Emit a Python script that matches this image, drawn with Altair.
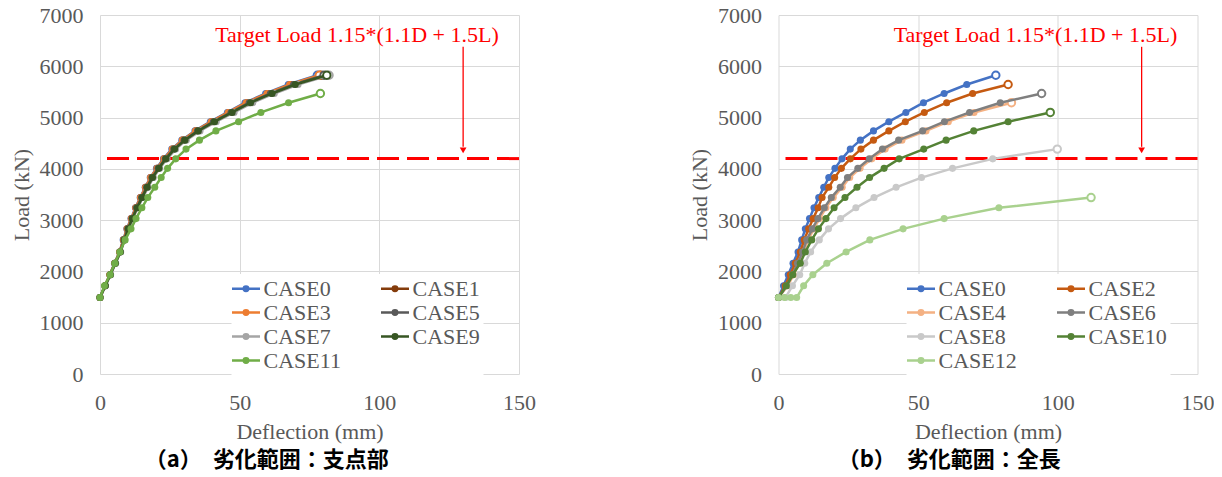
import altair as alt
import pandas as pd

# ---------------- data ----------------
LOAD_STEPS = [1490, 1720, 1935, 2160, 2380, 2615, 2830, 3030, 3240, 3440, 3640, 3830,
              4010, 4195, 4385, 4560, 4740, 4920, 5100, 5290, 5470, 5645, 5825]

# (a) left panel
CASE0_DEFL = [0, 1.8, 3.5, 5.2, 7.0, 8.3, 9.6, 11.1, 12.7, 14.4, 16.2, 18.0, 20.2, 22.7,
              25.7, 29.3, 34.0, 39.5, 45.6, 51.9, 59.3, 67.4, 77.8]
CASE1_DEFL = [0, 1.8, 3.6, 5.3, 7.1, 8.4, 9.8, 11.3, 12.9, 14.6, 16.4, 18.3, 20.5, 23.0,
              26.0, 29.6, 34.4, 40.0, 46.2, 52.6, 60.1, 68.3, 79.0]
CASE3_DEFL = [0, 1.8, 3.5, 5.3, 7.0, 8.4, 9.7, 11.2, 12.8, 14.5, 16.3, 18.1, 20.4, 22.9,
              25.9, 29.5, 34.2, 39.8, 45.9, 52.3, 59.8, 67.9, 78.5]
CASE5_DEFL = [0, 1.9, 3.7, 5.4, 7.2, 8.6, 10.0, 11.5, 13.1, 14.9, 16.7, 18.6, 20.8, 23.4,
              26.4, 30.1, 34.9, 40.6, 46.9, 53.4, 61.0, 69.3, 80.2]
CASE7_DEFL = [0, 1.9, 3.8, 5.6, 7.4, 8.8, 10.3, 11.8, 13.5, 15.3, 17.2, 19.1, 21.4, 24.0,
              27.1, 30.9, 35.8, 41.6, 48.0, 54.7, 62.4, 70.9, 82.0]
CASE9_DEFL = [0, 1.9, 3.7, 5.5, 7.3, 8.7, 10.1, 11.6, 13.3, 15.1, 16.9, 18.8, 21.1, 23.6,
              26.7, 30.4, 35.2, 41.0, 47.3, 53.9, 61.6, 69.9, 81.2]
CASE11_DEFL = [0, 1.6, 3.6, 5.3, 7.1, 9.0, 11.1, 12.9, 15.0, 17.1, 19.6, 21.9, 24.2, 27.1,
               30.8, 35.6, 41.5, 49.6, 57.6, 67.5, 78.9]

# (b) right panel
CASE2_DEFL = [0, 2.4, 4.2, 6.0, 7.8, 9.2, 10.8, 12.4, 14.2, 15.6, 18.0, 20.1, 22.5, 25.7,
              29.5, 34.0, 39.5, 45.4, 52.2, 60.2, 69.5, 82.2]
CASE4_DEFL = [0, 3.3, 5.4, 7.2, 9.0, 10.6, 12.6, 14.7, 17.0, 19.6, 22.8, 25.5, 29.2, 33.4,
              38.2, 44.2, 52.8, 60.8, 70.0, 83.4]
CASE6_DEFL = [0, 3.0, 5.0, 6.8, 8.6, 10.1, 12.1, 14.1, 16.4, 18.9, 22.1, 24.7, 28.4, 32.5,
              37.2, 43.0, 51.6, 59.4, 68.4, 79.4, 94.2]
CASE8_DEFL = [0, 2.5, 5.0, 7.6, 9.4, 11.5, 14.6, 17.9, 22.2, 27.7, 34.2, 42.1, 51.2, 62.3,
              76.7, 99.8]
CASE8_LOAD = [1490, 1490, 1720, 1935, 2160, 2380, 2615, 2830, 3030, 3240, 3440, 3640, 3830,
              4010, 4195, 4385]
CASE10_DEFL = [0, 2.8, 5.1, 7.8, 9.6, 11.9, 14.3, 17.0, 19.9, 23.8, 28.1, 32.6, 37.8, 43.2,
               52.0, 60.0, 69.9, 82.2, 97.3]
CASE12_DEFL = [0, 2.2, 4.4, 6.5, 9.0, 12.3, 17.3, 24.2, 32.7, 44.6, 59.3, 78.9, 111.9]
CASE12_LOAD = [1490, 1490, 1490, 1490, 1720, 1935, 2160, 2380, 2615, 2830, 3030, 3240, 3440]

LEFT_CASES = ["CASE0", "CASE1", "CASE3", "CASE5", "CASE7", "CASE9", "CASE11"]
LEFT_COLORS = ["#4472C4", "#843C0C", "#ED7D31", "#595959", "#A5A5A5", "#375623", "#70AD47"]
LEFT_DEFL = [CASE0_DEFL, CASE1_DEFL, CASE3_DEFL, CASE5_DEFL, CASE7_DEFL, CASE9_DEFL, CASE11_DEFL]
LEFT_LOAD = [LOAD_STEPS[:len(d)] for d in LEFT_DEFL]

RIGHT_CASES = ["CASE0", "CASE2", "CASE4", "CASE6", "CASE8", "CASE10", "CASE12"]
RIGHT_COLORS = ["#4472C4", "#C55A11", "#F4B183", "#7F7F7F", "#C9C9C9", "#548235", "#A9D18E"]
RIGHT_DEFL = [CASE0_DEFL, CASE2_DEFL, CASE4_DEFL, CASE6_DEFL, CASE8_DEFL, CASE10_DEFL, CASE12_DEFL]
RIGHT_LOAD = [LOAD_STEPS[:len(CASE0_DEFL)], LOAD_STEPS[:len(CASE2_DEFL)],
              LOAD_STEPS[:len(CASE4_DEFL)], LOAD_STEPS[:len(CASE6_DEFL)],
              CASE8_LOAD, LOAD_STEPS[:len(CASE10_DEFL)], CASE12_LOAD]

TARGET_LOAD = 4200
TARGET_TEXT = "Target Load 1.15*(1.1D + 1.5L)"
TEXT_POS = [92, 6610]
ARROW_X = 130
ARROW_Y = [6380, 4430]
ARROWHEAD_Y = 4360

X_TICKS = [0, 50, 100, 150]
Y_TICKS = [0, 1000, 2000, 3000, 4000, 5000, 6000, 7000]
CAPTIONS = ["（a）\u3000劣化範囲：支点部", "（b）\u3000劣化範囲：全長"]
CAPTION_DX = [-6, -2]
LEGEND_X = [131.5, 128]

SERIF = "Liberation Serif, Times New Roman, Tinos, DejaVu Serif, serif"
RED = "#FF0000"
# legend glyph: a short line with a filled dot (drawn as concentric stroked rings)
LEGEND_SYMBOL = ("M-1.4,0H1.4"
                 "M-0.224,0A0.224,0.224,0,1,0,0.224,0A0.224,0.224,0,1,0,-0.224,0"
                 "M-0.084,0A0.084,0.084,0,1,0,0.084,0A0.084,0.084,0,1,0,-0.084,0")

W, H = 419, 359


def panel(cases, colors, defls, loads, caption, cdx, lx):
    x_enc = alt.X("defl:Q", scale=alt.Scale(domain=[0, 150], nice=False),
                  axis=alt.Axis(values=X_TICKS, title="Deflection (mm)", format="d",
                                labelFlush=False))
    y_enc = alt.Y("load:Q", scale=alt.Scale(domain=[0, 7000], nice=False),
                  axis=alt.Axis(values=Y_TICKS, title="Load (kN)", format="d",
                                labelFlush=False))
    cscale = alt.Scale(domain=cases, range=colors)
    legend = alt.Legend(orient="none", legendX=lx, legendY=259, columns=2, title=None,
                        direction="horizontal",
                        symbolType=LEGEND_SYMBOL, symbolSize=400, symbolStrokeWidth=2.5,
                        labelFont=SERIF, labelFontSize=22, labelColor="#595959",
                        labelOffset=6, fillColor="white", padding=3, rowPadding=1,
                        columnPadding=34)

    layers = []
    layers.append(
        alt.Chart(pd.DataFrame({"load": [TARGET_LOAD]}))
        .mark_rule(color=RED, strokeWidth=3, strokeDash=[22, 8])
        .encode(y=y_enc)
    )
    for case, defl, load in zip(cases, defls, loads):
        df = pd.DataFrame({"defl": defl, "load": load, "case": case})
        base = alt.Chart(df).encode(x=x_enc, y=y_enc)
        layers.append(base.mark_line(strokeWidth=2.5).encode(
            color=alt.Color("case:N", scale=cscale, legend=legend)))
        layers.append(base.mark_point(filled=True, size=50, opacity=1, strokeWidth=0).encode(
            fill=alt.Fill("case:N", scale=cscale, legend=None)))
        last = df.iloc[[-1]]
        layers.append(alt.Chart(last).mark_point(filled=True, fill="white", size=55,
                                                  strokeWidth=2, opacity=1).encode(
            x=x_enc, y=y_enc, stroke=alt.Stroke("case:N", scale=cscale, legend=None)))

    layers.append(
        alt.Chart(pd.DataFrame({"defl": [ARROW_X], "load": [ARROW_Y[0]], "load2": [ARROW_Y[1]]}))
        .mark_rule(color=RED, strokeWidth=1.3)
        .encode(x="defl:Q", y="load:Q", y2="load2:Q")
    )
    layers.append(
        alt.Chart(pd.DataFrame({"defl": [ARROW_X], "load": [ARROWHEAD_Y]}))
        .mark_point(shape="triangle-down", filled=True, color=RED, size=45, opacity=1)
        .encode(x="defl:Q", y="load:Q")
    )
    layers.append(
        alt.Chart(pd.DataFrame({"defl": [TEXT_POS[0]], "load": [TEXT_POS[1]], "t": [TARGET_TEXT]}))
        .mark_text(color=RED, font=SERIF, fontSize=22, align="center", baseline="middle")
        .encode(x="defl:Q", y="load:Q", text="t:N")
    )
    return alt.layer(*layers).properties(
        width=W, height=H,
        title=alt.TitleParams(text=caption, orient="bottom", anchor="middle", frame="bounds",
                              font="Noto Sans CJK JP", fontSize=22, fontWeight="bold",
                              color="black", offset=8, dx=cdx),
    )


left = panel(LEFT_CASES, LEFT_COLORS, LEFT_DEFL, LEFT_LOAD, CAPTIONS[0], CAPTION_DX[0],
             LEGEND_X[0])
right = panel(RIGHT_CASES, RIGHT_COLORS, RIGHT_DEFL, RIGHT_LOAD, CAPTIONS[1], CAPTION_DX[1],
              LEGEND_X[1])

chart = (
    alt.hconcat(left, right, spacing=152.5)
    .resolve_scale(color="independent", fill="independent", stroke="independent")
    .resolve_legend(color="independent")
    .properties(padding={"top": -4, "left": 2, "right": 0, "bottom": 0})
    .configure(font=SERIF,
               style={"guide-label": {"font": SERIF, "fontSize": 22, "fill": "#595959"}})
    .configure_view(stroke=None)
    .configure_axis(grid=True, gridColor="#D9D9D9", gridWidth=1, domain=False, ticks=False,
                    tickSize=0, labelFont=SERIF, labelFontSize=22, labelColor="#595959",
                    titleFont=SERIF, titleFontSize=22, titleFontWeight="normal",
                    titleColor="#595959")
    .configure_axisY(labelPadding=17, titlePadding=6)
    .configure_axisX(labelPadding=18, titlePadding=8)
    .configure_legend(labelFont=SERIF, labelFontSize=22, labelColor="#595959")
)

chart.save("out.html", embed_options={"renderer": "svg", "actions": False})
